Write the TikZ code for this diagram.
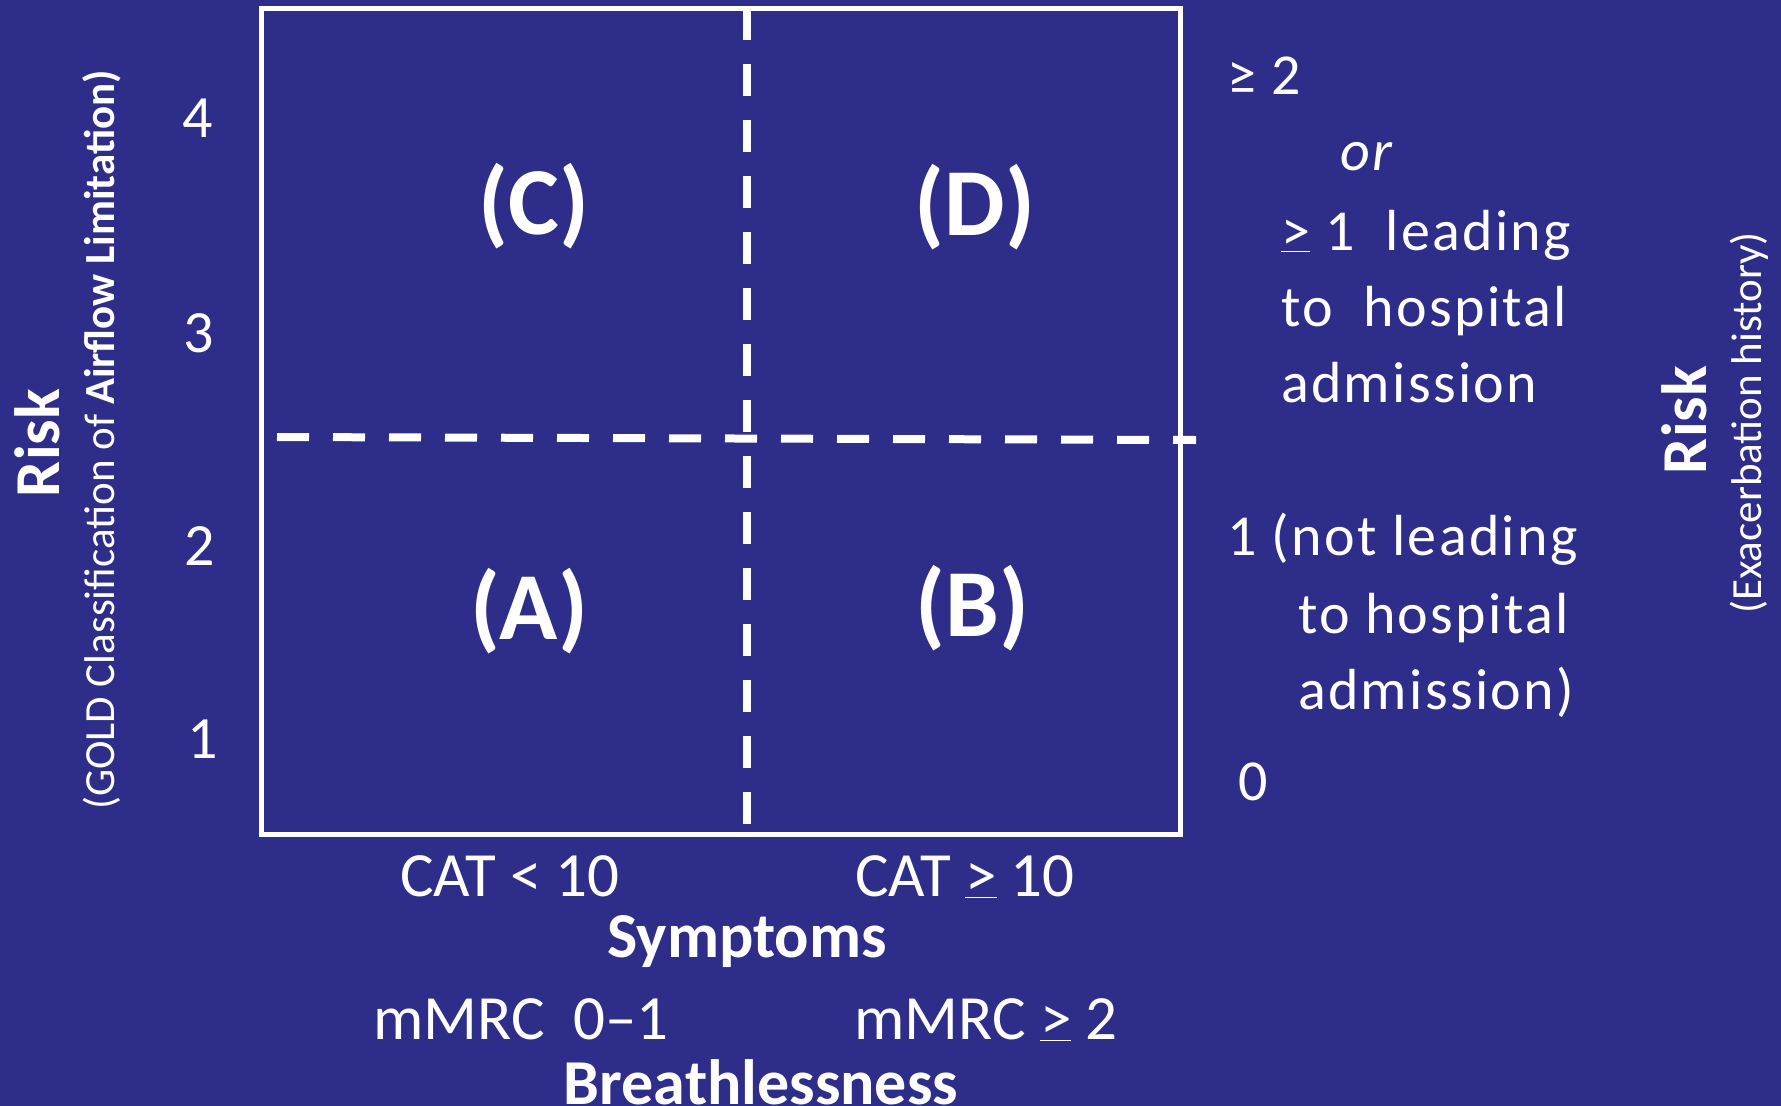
\documentclass[tikz,border=0pt]{standalone}
\usepackage{fontspec}
\setmainfont{Carlito}
\usepackage{xcolor}
\usepackage{tikz}
\usetikzlibrary{positioning}

\definecolor{slideblue}{RGB}{46,46,138}

\begin{document}
\begin{tikzpicture}[
        x=1pt, y=-1pt,
        every node/.style={text=white, inner sep=0pt, outer sep=0pt},
        quadlabel/.style={font=\fontsize{96}{110}\selectfont\bfseries},
        tick/.style={font=\fontsize{60}{72}\selectfont},
        bottomtick/.style={font=\fontsize{63}{72}\selectfont, anchor=base},
        riskline/.style={font=\fontsize{58}{76}\selectfont\addfontfeatures{LetterSpace=4}, anchor=base west, align=left},
        axistitle/.style={font=\fontsize{64}{74}\selectfont\bfseries},
        axisnote/.style={font=\fontsize{43}{50}\selectfont},
        divider/.style={white, line width=8pt, dash pattern=on 32pt off 24pt}
    ]

    \fill[slideblue] (0,0) rectangle (1781,1106);
    \useasboundingbox (0,0) rectangle (1781,1106);

    % the four quadrants
    \node (grid) [draw=white, line width=5pt, minimum width=919pt, minimum height=826.5pt] at (720.5,421.25) {};

    \coordinate (vtop) at (747,8);
    \coordinate (vbot) at (747,834);
    \coordinate (hleft) at (277,437);
    \coordinate (hright) at (1196,440);

    \draw [divider] (vtop) -- (vbot);
    \draw [divider] (hleft) -- (hright);

    \node (quadC) [quadlabel] at (534,206) {(C)};
    \node (quadD) [quadlabel] at (975,207) {(D)};
    \node (quadA) [quadlabel] at (529,611) {(A)};
    \node (quadB) [quadlabel] at (972,608) {(B)};

    % left axis: GOLD grade
    \node (gold4) [tick] at (198,118) {4};
    \node (gold3) [tick] at (199,333) {3};
    \node (gold2) [tick] at (200,546) {2};
    \node (gold1) [tick] at (203,739) {1};

    \node (riskleft) [axistitle, rotate=90] at (37,443) {Risk};
    \node (goldnote) [axisnote, rotate=90] at (102,440) {(GOLD Classification of \textbf{Airflow Limitation)}};

    % right axis: exacerbations (multi-line nodes sit on their last line)
    \node (exhigh) [riskline] at (1227,94) {≥ 2};
    \node (exor) [riskline] at (1340,170) {\itshape or};
    \node (exhosp) [riskline] at (1281,402) {\underline{>} 1~ leading\\to~ hospital\\admission};
    \node (exone) [riskline] at (1227,555) {1 (not leading};
    \node (exonemore) [riskline] at (1298,709) {to hospital\\admission)};
    \node (exzero) [riskline] at (1238,800) {0};

    \node (riskright) [axistitle, rotate=90] at (1684,420) {Risk};
    \node (exnote) [axisnote, rotate=90] at (1749,423) {(Exacerbation history)};

    % bottom axis: symptoms and breathlessness
    \node (catlow) [bottomtick] at (510,896) {CAT < 10};
    \node (cathigh) [bottomtick] at (965,896) {CAT \underline{>} 10};
    \node (symptoms) [axistitle, anchor=base] at (747,957) {Symptoms};
    \node (mmrclow) [bottomtick] at (521,1039) {mMRC~ 0–1};
    \node (mmrchigh) [bottomtick] at (986,1039) {mMRC \underline{>} 2};
    \node (breath) [axistitle, anchor=base] at (761,1104) {Breathlessness};

\end{tikzpicture}
\end{document}
